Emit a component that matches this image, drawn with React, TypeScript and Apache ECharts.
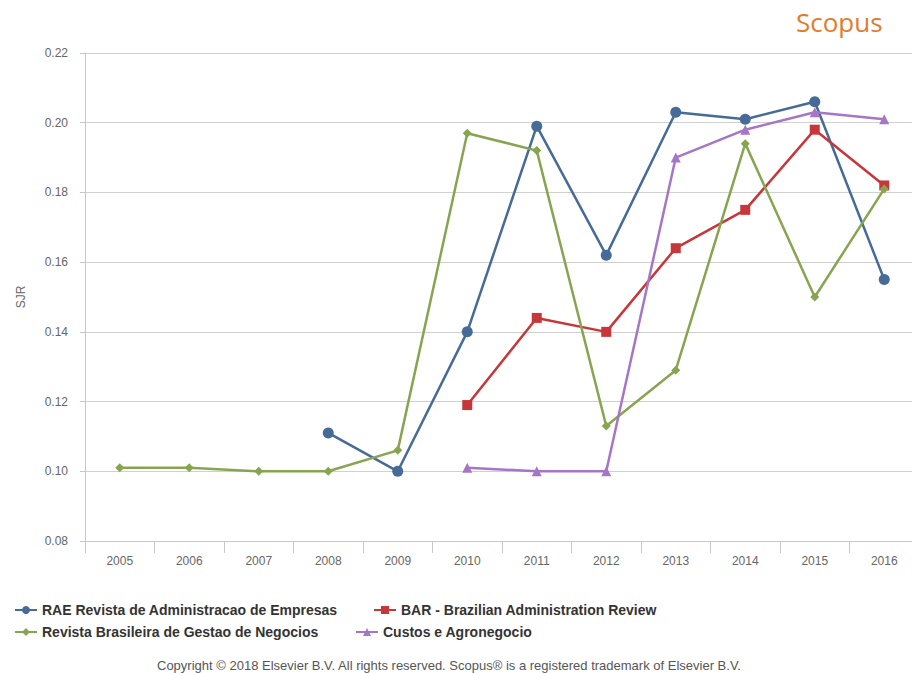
import React, { useEffect, useRef } from "react";
import * as echarts from "echarts";

const years = ["2005", "2006", "2007", "2008", "2009", "2010", "2011", "2012", "2013", "2014", "2015", "2016"];
const raeName = "RAE Revista de Administracao de Empresas";
const barName = "BAR - Brazilian Administration Review";
const rbgnName = "Revista Brasileira de Gestao de Negocios";
const custosName = "Custos e Agronegocio";
const raeValues = [null, null, null, 0.111, 0.1, 0.14, 0.199, 0.162, 0.203, 0.201, 0.206, 0.155];
const barValues = [null, null, null, null, null, 0.119, 0.144, 0.14, 0.164, 0.175, 0.198, 0.182];
const rbgnValues = [0.101, 0.101, 0.1, 0.1, 0.106, 0.197, 0.192, 0.113, 0.129, 0.194, 0.15, 0.181];
const custosValues = [null, null, null, null, null, 0.101, 0.1, 0.1, 0.19, 0.198, 0.203, 0.201];

const FONT = "'Liberation Sans', Arial, sans-serif";

export default function App() {
  const ref = useRef<HTMLDivElement>(null);
  useEffect(() => {
    document.body.style.margin = "0";
    document.body.style.overflow = "hidden";
    const chart = echarts.init(ref.current!, null, { renderer: "svg" });
    const mk = (name: string, data: any[], color: string, symbol: string, size: number) => ({
      name,
      type: "line",
      data,
      symbol,
      symbolSize: size,
      showAllSymbol: true,
      connectNulls: false,
      lineStyle: { color, width: 2.5 },
      itemStyle: { color },
      z: 3,
    });
    const legendBase = {
      orient: "horizontal",
      padding: 0,
      itemWidth: 22,
      itemHeight: 10,
      textStyle: { fontFamily: FONT, fontSize: 14, color: "#333", fontWeight: "bold" },
    };
    chart.setOption({
      animation: false,
      textStyle: { fontFamily: FONT },
      grid: { left: 85, top: 53, width: 834, height: 488, containLabel: false },
      xAxis: {
        type: "category",
        data: years,
        boundaryGap: true,
        axisLine: { lineStyle: { color: "#c8c8c8" } },
        axisTick: { show: true, length: 12, lineStyle: { color: "#c8c8c8" } },
        axisLabel: { color: "#666", fontSize: 12, margin: 14 },
        splitLine: { show: false },
      },
      yAxis: {
        type: "value",
        min: 0.08,
        max: 0.22,
        interval: 0.02,
        name: "SJR",
        nameLocation: "middle",
        nameGap: 58,
        nameTextStyle: { color: "#666", fontSize: 12 },
        axisLine: { show: true, lineStyle: { color: "#c8c8c8" } },
        axisTick: { show: true, length: 5, lineStyle: { color: "#c8c8c8" } },
        axisLabel: { color: "#666", fontSize: 12, margin: 17, formatter: (v: number) => v.toFixed(2) },
        splitLine: { lineStyle: { color: "#d0d0d0", width: 1 } },
      },
      legend: [
        { ...legendBase, left: 14, top: 603, data: [raeName] },
        { ...legendBase, left: 373, top: 603, data: [barName] },
        { ...legendBase, left: 14, top: 625, data: [rbgnName] },
        { ...legendBase, left: 355, top: 625, data: [custosName] },
      ],
      graphic: [
        {
          type: "text",
          left: 796,
          top: 9,
          style: { text: "Scopus", fill: "#e27c2c", fontSize: 26, fontFamily: "'Open Sans', sans-serif" },
        },
        {
          type: "text",
          left: 157,
          top: 659,
          style: {
            text: "Copyright \u00a9 2018 Elsevier B.V. All rights reserved. Scopus\u00ae is a registered trademark of Elsevier B.V.",
            fill: "#555",
            fontSize: 13,
            fontFamily: FONT,
          },
        },
      ],
      series: [
        mk(raeName, raeValues, "#466b98", "circle", 11),
        mk(barName, barValues, "#c9363a", "rect", 10),
        mk(rbgnName, rbgnValues, "#87a551", "diamond", 9),
        mk(custosName, custosValues, "#a676c6", "triangle", 10),
      ],
    });
    return () => chart.dispose();
  }, []);
  return <div ref={ref} style={{ width: 920, height: 673 }} />;
}
